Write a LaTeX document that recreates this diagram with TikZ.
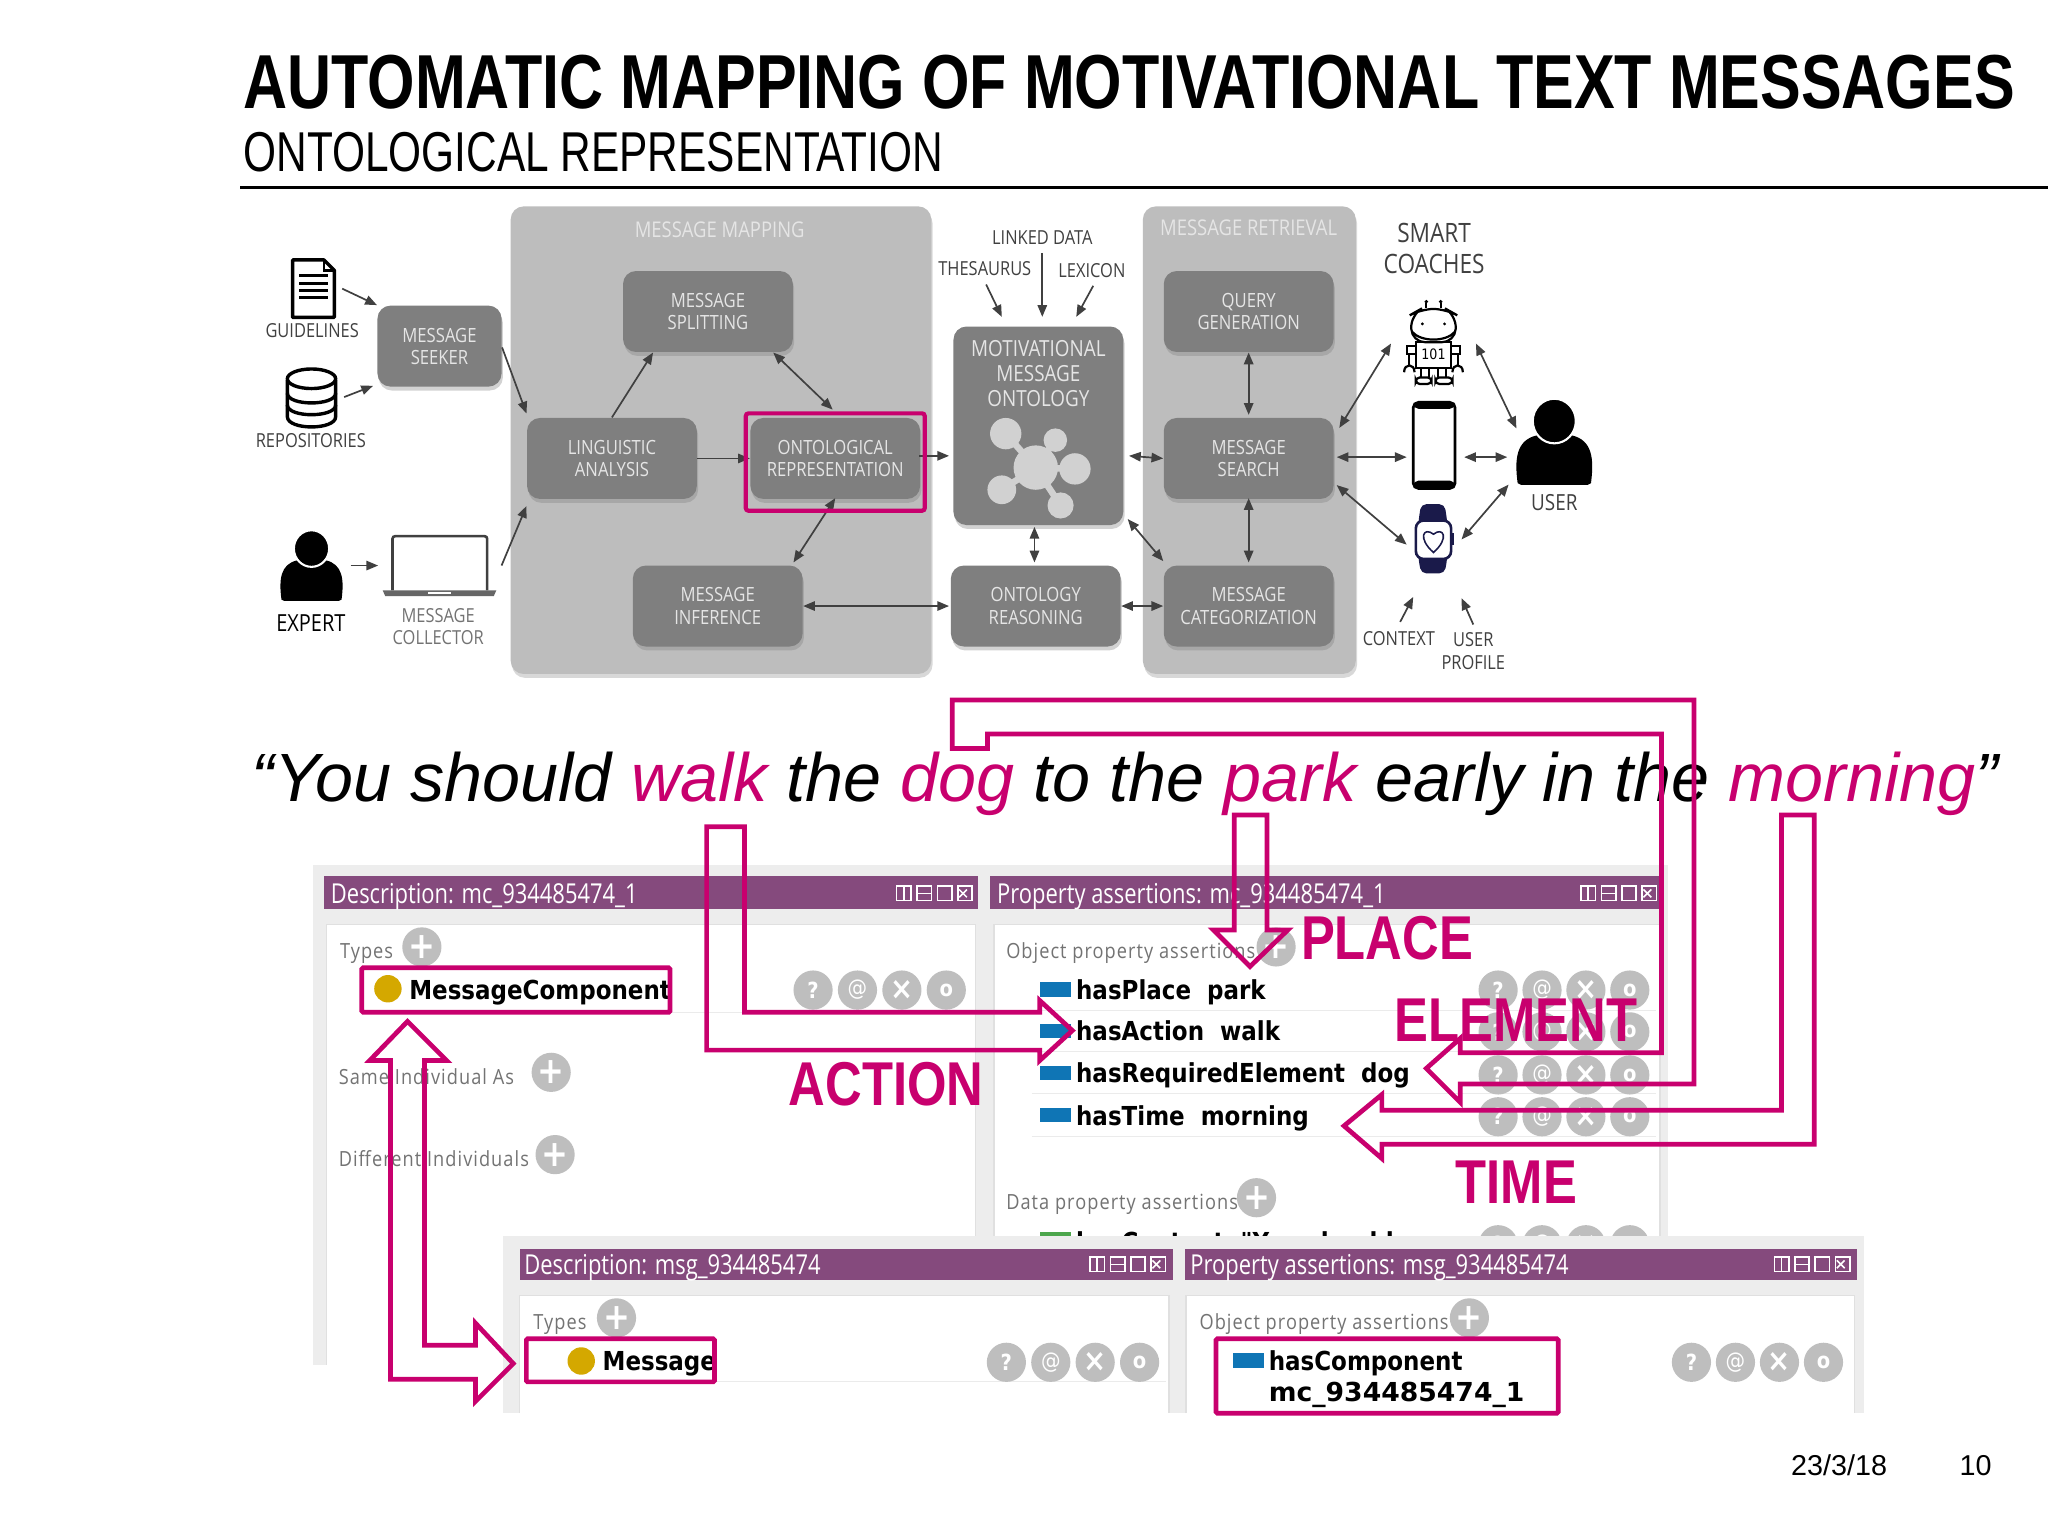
\documentclass[tikz,border=0pt]{standalone}
\usepackage{fontspec}
\usetikzlibrary{calc,arrows.meta,shadows}
\newfontfamily\narrowfont[FakeStretch=0.82]{Liberation Sans}
\newfontfamily\headfont[FakeStretch=0.797]{Liberation Sans}
\newfontfamily\subheadfont[FakeStretch=0.755]{Liberation Sans}
\newfontfamily\quotefont{Liberation Sans}
\newfontfamily\labelfont[FakeStretch=0.85]{Open Sans}
\newfontfamily\shotfont[FakeStretch=0.8]{Open Sans}
\newfontfamily\greyfont[FakeStretch=0.87,LetterSpace=5]{Open Sans}
\newfontfamily\rowfont[FakeStretch=0.88]{DejaVu Sans}
\newfontfamily\valfont[FakeStretch=1.02]{DejaVu Sans}
\definecolor{magentaline}{HTML}{C8006E}
\definecolor{panelgray}{HTML}{BDBDBD}
\definecolor{boxgray}{HTML}{7F7F7F}
\definecolor{arrowgray}{HTML}{404040}
\definecolor{shotbar}{HTML}{854A7D}
\definecolor{shotback}{HTML}{EDEDED}
\definecolor{btngray}{HTML}{BEBEBE}
\definecolor{rowblue}{HTML}{0F75B5}
\definecolor{rowgold}{HTML}{D4A800}
\definecolor{watchblue}{HTML}{1A1A4A}
\tikzset{
  panel/.style={fill=panelgray,rounded corners=5pt,drop shadow={opacity=.3,shadow xshift=.5pt,shadow yshift=-1.5pt}},
  stepbox/.style={fill=boxgray,rounded corners=5pt,minimum width=65pt,minimum height=31pt,align=center,
    text=white!90!black,font=\labelfont\fontsize{7.5}{8.5}\selectfont,inner sep=0pt,
    drop shadow={opacity=.35,shadow xshift=.5pt,shadow yshift=-1.5pt}},
  ink/.style={align=center,text=arrowgray,font=\labelfont\fontsize{7.4}{8.5}\selectfont,inner sep=0pt},
  conn/.style={-{Triangle[length=4.5pt,width=3.6pt]},line width=.65pt,arrowgray},
  biconn/.style={{Triangle[length=4.5pt,width=3.6pt]}-{Triangle[length=4.5pt,width=3.6pt]},line width=.65pt,arrowgray},
  tag/.style={text=magentaline,font=\narrowfont\bfseries\fontsize{23.7}{24}\selectfont,inner sep=0pt},
  outline/.style={draw=magentaline,line width=1.8pt,line join=miter},
  markbox/.style={draw=magentaline,line width=1.8pt,rounded corners=.5pt},
  bartext/.style={anchor=base west,text=white,font=\shotfont\fontsize{10.5}{10.5}\selectfont,inner sep=0pt},
  greytext/.style={anchor=base west,text=black!55,font=\greyfont\fontsize{8}{8}\selectfont,inner sep=0pt},
  rowtext/.style={anchor=base west,text=black,font=\rowfont\bfseries\fontsize{10}{12}\selectfont,inner sep=0pt},
  btn/.style={circle,fill=btngray,minimum size=15pt,inner sep=0pt,text=white,font=\rowfont\bfseries\fontsize{8.5}{8.5}\selectfont},
  plusbtn/.style={circle,fill=btngray,minimum size=15pt,inner sep=0pt,text=white,font=\rowfont\bfseries\fontsize{14}{14}\selectfont},
}
% row of four round buttons
\newcommand{\btnrow}[4]{
  \node[btn] (#1a) at (#2,#4) {?};
  \node[btn] (#1b) at ($(#1a)+(#3,0)$) {\fontseries{m}\selectfont @};
  \node[btn] (#1c) at ($(#1b)+(#3,0)$) {\fontsize{12}{12}\selectfont ×};
  \node[btn] (#1d) at ($(#1c)+(#3,0)$) {o};
}
% the four window icons of a title bar
\newcommand{\winicons}[2]{
  \foreach\i in {0,1,2,3}
    \draw[white,line width=.6pt] ($(#1,#2)+(\i*15.6-5.5,-5.5)$) rectangle ++(11,11);
  \draw[white,line width=.6pt] ($(#1,#2)+(0,-5.5)$) -- ++(0,11);
  \draw[white,line width=.6pt] ($(#1,#2)+(10.1,0)$) -- ++(11,0);
  \draw[white,line width=.6pt] ($(#1,#2)+(42.3,-3)$) -- ++(6,6) ++(-6,0) -- ++(6,-6);
}
\newcommand{\personicon}[3]{
  \begin{scope}[shift={(#1,#2)},scale=#3]
  \fill[black] (-23,27) .. controls (-25,12) and (-24,0) .. (-11,-3) -- (11,-3)
    .. controls (24,0) and (25,12) .. (23,27) -- (21,28) -- (-21,28) -- cycle;
  \fill[black,draw=white,line width=.8pt] (0,-12) ellipse (13.5 and 14);
  \end{scope}
}
\begin{document}
\begin{tikzpicture}[x=.5pt,y=-.5pt]
\useasboundingbox (0,0) rectangle (1568,1176);
\fill[white] (0,0) rectangle (1568,1176);

% heading
\node[anchor=base west,inner sep=0pt,font=\headfont\bfseries\fontsize{29.3}{30}\selectfont] (headline) at (186,83) {AUTOMATIC MAPPING OF MOTIVATIONAL TEXT MESSAGES};
\node[anchor=base west,inner sep=0pt,font=\subheadfont\fontsize{21.5}{24}\selectfont] (subhead) at (186,131) {ONTOLOGICAL REPRESENTATION};
\draw[line width=1pt] (184,143.5) -- (1568,143.5);

% grey panels
\fill[panel] (391,158) rectangle (713,516);
\fill[panel] (875,158) rectangle (1038,516);
\node[ink,text=white!90!black,font=\labelfont\fontsize{8.3}{9}\selectfont] (maptitle) at (551,176) {MESSAGE MAPPING};
\node[ink,text=white!90!black,font=\labelfont\fontsize{8.3}{9}\selectfont] (rettitle) at (956,174) {MESSAGE RETRIEVAL};

% steps
\node[stepbox,minimum width=47.5pt] (seeker) at (336.5,265) {MESSAGE\\SEEKER};
\node[stepbox] (split) at (542,238.5) {MESSAGE\\SPLITTING};
\node[stepbox] (ling) at (468.5,351) {LINGUISTIC\\ANALYSIS};
\node[stepbox] (onto) at (639.5,351) {ONTOLOGICAL\\REPRESENTATION};
\node[stepbox] (infer) at (549.5,464) {MESSAGE\\INFERENCE};
\node[stepbox,minimum height=76pt] (motiv) at (795,326) {};
\node[stepbox] (reason) at (793,464) {ONTOLOGY\\REASONING};
\node[stepbox] (query) at (956,238.5) {QUERY\\GENERATION};
\node[stepbox] (search) at (956,351) {MESSAGE\\SEARCH};
\node[stepbox] (categ) at (956,464) {MESSAGE\\CATEGORIZATION};
\node[ink,text=white!90!black,font=\labelfont\fontsize{8.5}{9.6}\selectfont] (motivtext) at (795,286) {MOTIVATIONAL\\MESSAGE\\ONTOLOGY};

% ontology molecule
\foreach\cx/\cy/\r in {770/332/12,808/337/9,823/359/12,767/375/11,812/387/10}
  {
  \draw[black!18,line width=2.5pt] (793,358) -- (\cx,\cy);
  \fill[black!18] (\cx,\cy) circle (\r);
  }
\fill[black!18] (793,358) circle (17);

% icons
\coordinate (guideicon) at (240,221);
\draw[black,line width=1.3pt,line join=round] (224,199) -- (248,199) -- (256,207) -- (256,243) -- (224,243) -- cycle;
\draw[black,line width=.9pt] (248,199) -- (248,207) -- (256,207);
\foreach\y in {211,217,222.5,228}
  \draw[black,line width=1pt] (229,\y) -- (251,\y);
\coordinate (dbicon) at (238.5,304);
\draw[black,line width=1.3pt] (220,291) -- (220,319) .. controls (220,329.5) and (257,329.5) .. (257,319) -- (257,291);
\draw[black,line width=1.3pt] (238.5,290) ellipse (18.5 and 7.5);
\draw[black,line width=1.3pt] (220,301) .. controls (220,311) and (257,311) .. (257,301);
\draw[black,line width=1.3pt] (220,310) .. controls (220,320) and (257,320) .. (257,310);
\coordinate (experticon) at (238.5,433);
\personicon{238.5}{432}{1}
\coordinate (laptopicon) at (336.5,433);
\draw[arrowgray,line width=1pt,fill=white,rounded corners=1pt] (300.5,452) -- (300.5,410.5) -- (373,410.5) -- (373,452);
\fill[black!60] (293,452) -- (380,452) -- (378,456.5) -- (295,456.5) -- cycle;
\fill[white] (328,453) rectangle (345,455);
\coordinate (roboticon) at (1097,262);
\begin{scope}[black,line width=.85pt]
\draw[rounded corners=5pt] (1081,262) -- (1080,241) -- (1088,236.5) -- (1107,236.5) -- (1115,241) -- (1114,262) -- cycle;
\draw (1081,254) .. controls (1088,262) and (1107,262) .. (1114,254);
\fill (1089,248) circle (1.2) (1106,248) circle (1.2);
\draw (1092,236) -- (1092,232) (1103,236) -- (1103,232);
\fill (1092,231) circle (1.5) (1103,231) circle (1.5);
\draw (1084,262) rectangle (1111,282);
\draw (1084,265) rectangle (1077,271) (1111,265) rectangle (1118,271);
\draw (1079,271) -- (1079,280) (1116,271) -- (1116,280);
\draw (1075,285) .. controls (1075,278) and (1083,278) .. (1083,285);
\draw (1112,285) .. controls (1112,278) and (1120,278) .. (1120,285);
\draw (1088,282) -- (1088,289) (1094,282) -- (1094,289) (1101,282) -- (1101,289) (1107,282) -- (1107,289);
\draw[rounded corners=1.5pt] (1084,294) rectangle (1096,289) (1099,294) rectangle (1112,289);
\end{scope}
\node[inner sep=0pt,font=\rowfont\fontsize{5.5}{5.5}\selectfont] (robotcode) at (1097.5,271) {101};
\coordinate (phoneicon) at (1098,341);
\draw[black,line width=1pt,fill=white,rounded corners=2pt] (1082,308) rectangle (1114,374);
\fill[black,rounded corners=2pt] (1082,308) rectangle (1114,313);
\fill[black,rounded corners=2pt] (1082,368) rectangle (1114,374);
\coordinate (watchicon) at (1098,412);
\fill[watchblue,rounded corners=2pt] (1088,386) -- (1106,386) -- (1108,399) -- (1108,428) -- (1106,439) -- (1088,439) -- (1086,428) -- (1086,399) -- cycle;
\draw[watchblue,line width=1pt,fill=white,rounded corners=3pt] (1084,398.5) rectangle (1111,428);
\fill[watchblue] (1111,408) rectangle (1113,417);
\draw[watchblue,line width=.6pt] (1097.5,423) .. controls (1085,412) and (1090,403) .. (1097.5,409) .. controls (1105,403) and (1110,412) .. cycle;
\coordinate (usericon) at (1190,350);
\personicon{1190}{337}{1.22}

% outer labels
\node[ink] (guidetext) at (239,253) {GUIDELINES};
\node[ink] (repotext) at (238,337) {REPOSITORIES};
\node[ink,text=black,font=\labelfont\fontsize{9}{9}\selectfont] (experttext) at (238,477) {EXPERT};
\node[ink,text=black!55] (collecttext) at (335.5,480) {MESSAGE\\COLLECTOR};
\node[ink] (linkedtext) at (798,182) {LINKED DATA};
\node[ink] (thestext) at (754,206) {THESAURUS};
\node[ink] (lextext) at (836,207) {LEXICON};
\node[ink,font=\labelfont\fontsize{10.2}{12}\selectfont] (coachtext) at (1098,190) {SMART\\COACHES};
\node[ink,font=\labelfont\fontsize{8.5}{9}\selectfont] (usertext) at (1190,385) {USER};
\node[ink] (contexttext) at (1071,489) {CONTEXT};
\node[ink] (profiletext) at (1128,498.5) {USER\\PROFILE};

% connectors
\draw[conn] ($(guideicon)+(22,0)$) -- (seeker.north west);
\draw[conn] ($(dbicon)+(25,0)$) -- ($(seeker.south west)+(-3,-1)$);
\draw[conn] ($(seeker.east)+(0,1)$) -- ($(ling.north west)+(0,-3)$);
\draw[conn] ($(experticon)+(30,0)$) -- ($(laptopicon)+(-47,0)$);
\draw[conn] ($(laptopicon)+(47.5,0)$) -- ($(ling.south west)+(0,5)$);
\draw[conn] (ling.north) -- ($(split.south)+(-42,0)$);
\draw[biconn] ($(split.south)+(50,0)$) -- ($(onto.north)+(-2,-6)$);
\draw[conn] (ling.east) -- (onto.west);
\draw[conn] ($(onto.east)+(-1,-2)$) -- ($(motiv.west)+(-3,23)$);
\draw[biconn] ($(onto.south)+(0,-1)$) -- ($(infer.north)+(58,-2)$);
\draw[biconn] (infer.east) -- ($(reason.west)+(-1,0)$);
\draw[conn] ($(thestext.south)+(1,6)$) -- ($(motiv.north)+(-28,-7)$);
\draw[conn] ($(linkedtext.south)+(0,6)$) -- ($(motiv.north)+(3,-7)$);
\draw[conn] ($(lextext.south)+(1,6)$) -- ($(motiv.north)+(29,-7)$);
\draw[biconn] ($(motiv.east)+(4,23)$) -- (search.west);
\draw[biconn] ($(motiv.south)+(-3,1)$) -- ($(reason.north)+(-1,-2)$);
\draw[biconn] ($(motiv.south east)+(3,-5)$) -- ($(categ.north west)+(0,-3)$);
\draw[biconn] (reason.east) -- (categ.west);
\draw[biconn] (query.south) -- ($(search.north)+(0,-2)$);
\draw[biconn] ($(search.south)+(0,-1)$) -- ($(categ.north)+(0,-2)$);
\draw[biconn] ($(search.north east)+(4,8)$) -- ($(roboticon)+(-32,1)$);
\draw[biconn] ($(search.east)+(2,-1)$) -- ($(phoneicon)+(-21,9)$);
\draw[biconn] ($(search.south east)+(2,-11)$) -- ($(watchicon)+(-21,5)$);
\draw[biconn] ($(phoneicon)+(23,9)$) -- ($(usericon)+(-36,0)$);
\draw[biconn] ($(roboticon)+(33,1)$) -- ($(usericon)+(-29,-22)$);
\draw[biconn] ($(watchicon)+(21,1)$) -- ($(usericon)+(-35,21)$);
\draw[conn] ($(contexttext.north)+(1,-7)$) -- ($(watchicon)+(-16,45)$);
\draw[conn] ($(profiletext.north)+(0,-6)$) -- ($(watchicon)+(21,46)$);

% highlight of the current step
\draw[draw=magentaline,line width=1.6pt,rounded corners=1pt] (571,316.5) rectangle (708,391);

% the two screenshots
\fill[shotback] (240,662) rectangle (1277,946);
\fill[shotback] (240,946) rectangle (385,1045);
\fill[white] (250,708) rectangle (747,1045);
\fill[white] (761,708) rectangle (1271,946);
\draw[black!12,line width=.5pt] (250,1045) -- (250,708) -- (747,708) -- (747,946);
\draw[black!12,line width=.5pt] (761,946) -- (761,708) -- (1271,708) -- (1271,946);
\fill[shotbar] (248,671) rectangle (749,696);
\fill[shotbar] (758,671) rectangle (1270,696);
\node[bartext] (desctop) at (253,691.5) {Description: mc\_934485474\_1};
\node[bartext] (proptop) at (763,691.5) {Property assertions: mc\_934485474\_1};
\winicons{692}{684}
\winicons{1216}{684}
\node[greytext] (typestop) at (260,734) {Types};
\node[greytext] (sametext) at (259,830) {Same Individual As};
\node[greytext] (difftext) at (259,893) {Different Individuals};
\node[greytext] (objtop) at (770,734) {Object property assertions};
\node[greytext] (datatop) at (770,926) {Data property assertions};
\node[plusbtn] (plusa) at (323,725) {+};
\node[plusbtn] (plusb) at (422,821) {+};
\node[plusbtn] (plusc) at (425,884) {+};
\node[plusbtn] (plusd) at (977,725) {+};
\node[plusbtn] (pluse) at (962,917) {+};
\draw[black!8] (280,775) -- (745,775);
\foreach\y in {774,805,837,870}
  \draw[black!8] (790,\y) -- (1268,\y);
\fill[rowgold] (297,757) circle (10.5);
\node[rowtext] (compname) at (313,765) {MessageComponent};
\btnrow{btnleft}{622.5}{34}{758}
\btnrow{btnplace}{1147}{33.6}{758}
\btnrow{btnaction}{1147}{33.6}{790}
\btnrow{btnelem}{1147}{33.6}{823}
\btnrow{btntime}{1147}{33.6}{855}
\btnrow{btndata}{1147}{33.6}{953}
\foreach\y in {757.5,789.5,821.5,853.5}
  \fill[rowblue] (796,\y-5.5) rectangle (820,\y+5.5);
\fill[black!50!green!70] (796,943) rectangle (820,950);
\node[rowtext] (rowplace) at (823.5,765) {hasPlace\ \ park};
\node[rowtext] (rowaction) at (823.5,797) {hasAction\ \ walk};
\node[rowtext] (rowelem) at (823.5,829) {hasRequiredElement\ \ dog};
\node[rowtext] (rowtime) at (823.5,862) {hasTime\ \ morning};
\node[rowtext] (rowdata) at (823.5,958) {hasContent\ \ "You should};

\fill[shotback] (385,946) rectangle (1427,1082);
\fill[white] (398,992) rectangle (895,1082);
\fill[white] (908,992) rectangle (1420,1082);
\draw[black!12,line width=.5pt] (398,1082) -- (398,992) -- (895,992) -- (895,1082);
\draw[black!12,line width=.5pt] (908,1082) -- (908,992) -- (1420,992) -- (1420,1082);
\fill[shotbar] (398,956) rectangle (898,980);
\fill[shotbar] (907,956) rectangle (1422,980);
\node[bartext] (descmsg) at (401,975.5) {Description: msg\_934485474};
\node[bartext] (propmsg) at (911,975.5) {Property assertions: msg\_934485474};
\winicons{840}{968}
\winicons{1364}{968}
\node[greytext] (typesmsg) at (408,1018) {Types};
\node[greytext] (objmsg) at (918,1018) {Object property assertions};
\node[plusbtn] (plusf) at (472,1009) {+};
\node[plusbtn] (plusg) at (1125,1009) {+};
\draw[black!8] (405,1058) -- (893,1058);
\fill[rowgold] (445,1042) circle (10.5);
\node[rowtext] (msgname) at (461,1049) {Message};
\btnrow{btnmsg}{770.5}{34}{1043}
\btnrow{btncomp}{1295}{33.7}{1043}
\fill[rowblue] (944,1036) rectangle (968,1047);
\node[rowtext,align=left] (compval) at (971,1073) {hasComponent\\{\valfont mc\_934485474\_1}};

% sentence
\node[anchor=base west,inner sep=0pt,font=\quotefont\itshape\fontsize{26.15}{28}\selectfont] (sentence) at (192,614) {“You should \textcolor{magentaline}{walk} the \textcolor{magentaline}{dog} to the \textcolor{magentaline}{park} early in the \textcolor{magentaline}{morning}”};

% mark boxes and hollow arrows
\draw[markbox] (277,741) rectangle (513,775);
\draw[markbox] (403,1025) rectangle (547,1058);
\draw[markbox] (931,1025) rectangle (1193,1082);
\draw[outline] (541,633) -- (570,633) -- (570,775) -- (796,775) -- (796,766) -- (821,789) -- (796,812) -- (796,804) -- (541,804) -- cycle;
\draw[outline] (945,624) -- (970,624) -- (970,712) -- (986,712) -- (957,740) -- (929,712) -- (945,712) -- cycle;
\draw[outline] (729,536) -- (1297,536) -- (1297,830) -- (1118,830) -- (1118,844) -- (1092,818) -- (1118,795) -- (1118,806) -- (1272,806) -- (1272,562) -- (756,562) -- (756,573) -- (729,573) -- cycle;
\draw[outline] (1364,624) -- (1389,624) -- (1389,876) -- (1058,876) -- (1058,887) -- (1029,862) -- (1058,838) -- (1058,850) -- (1364,850) -- cycle;
\draw[outline] (312,782) -- (342,812) -- (325,812) -- (325,1030) -- (364,1030) -- (364,1013) -- (393,1044) -- (364,1073) -- (364,1056) -- (299,1056) -- (299,812) -- (283,812) -- cycle;
\node[tag] (placetag) at (1062,718) {PLACE};
\node[tag] (elemtag) at (1160.5,781) {ELEMENT};
\node[tag] (actiontag) at (678.5,830) {ACTION};
\node[tag] (timetag) at (1161,905) {TIME};

% footer
\node[anchor=base west,inner sep=0pt,font=\quotefont\fontsize{11}{11}\selectfont] (datetext) at (1371,1130) {23/3/18};
\node[anchor=base west,inner sep=0pt,font=\quotefont\fontsize{11}{11}\selectfont] (pagetext) at (1500,1130) {10};
\end{tikzpicture}
\end{document}
